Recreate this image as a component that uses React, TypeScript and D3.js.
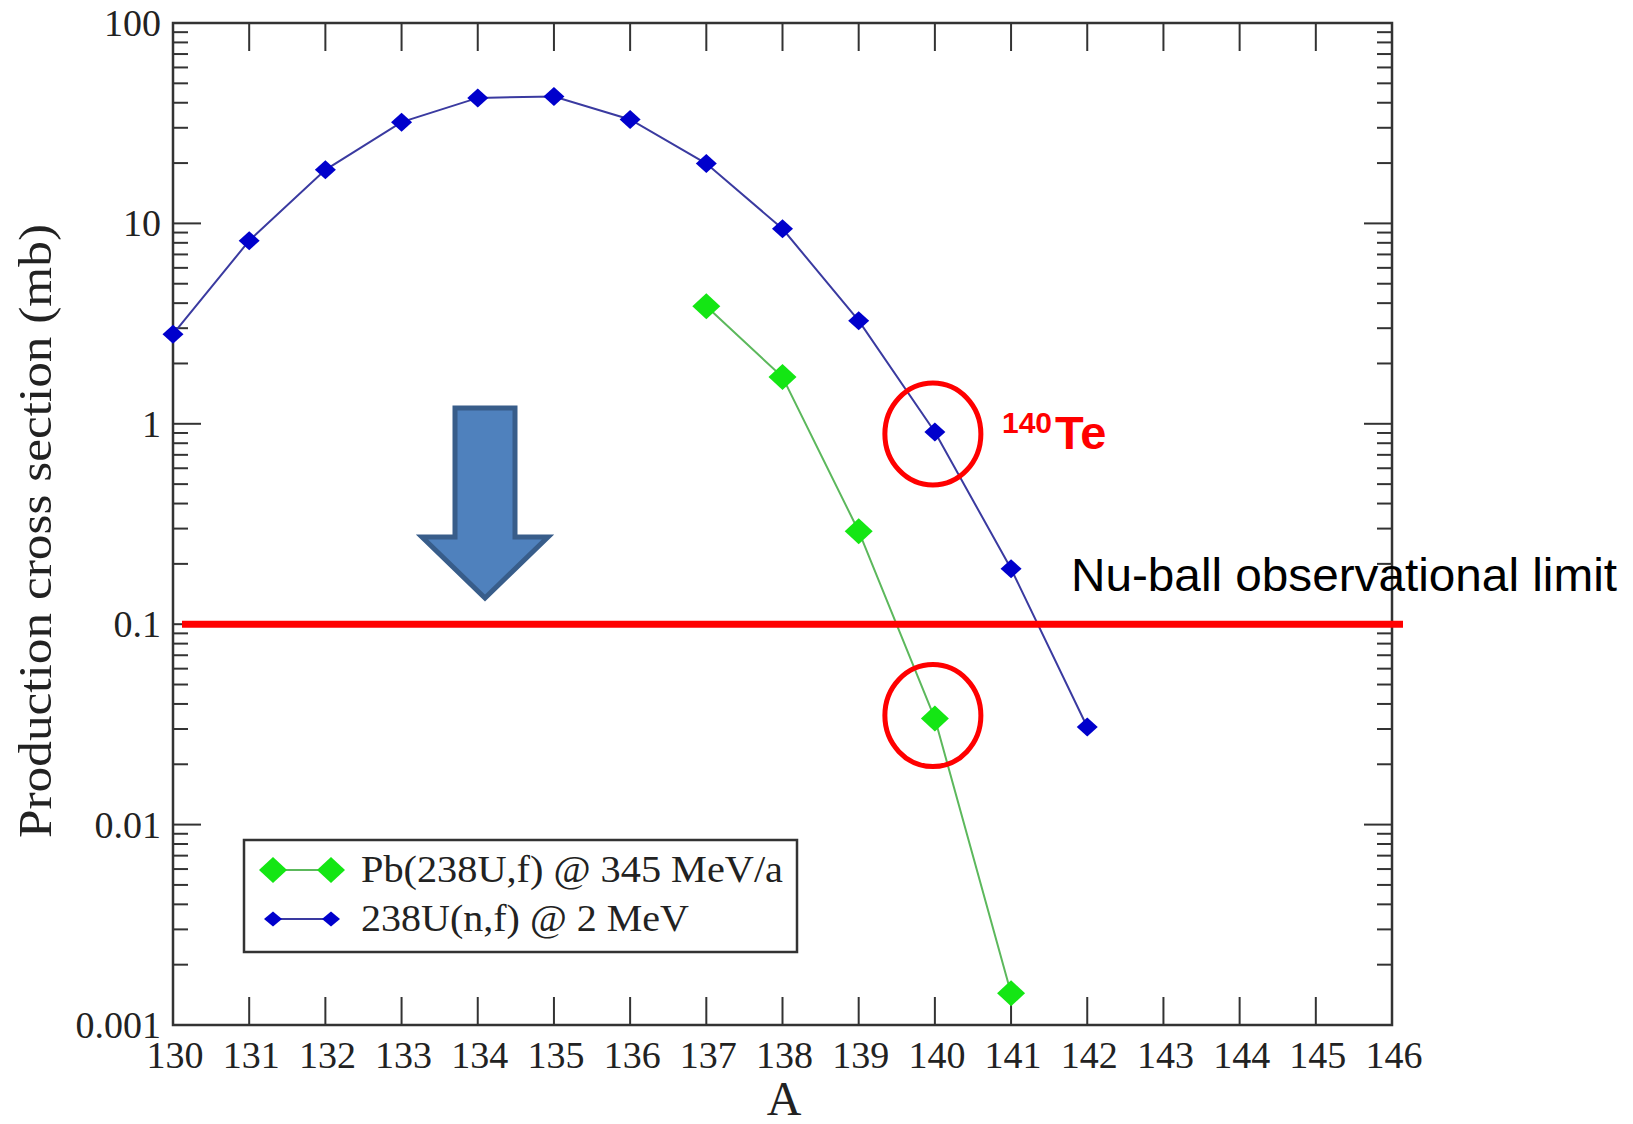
import React from "react";
import * as d3 from "d3";

// Mass number A of each point
const massU238nf = [130, 131, 132, 133, 134, 135, 136, 137, 138, 139, 140, 141, 142];
// 238U(n,f) @ 2 MeV production cross section (mb)
const sigmaU238nf = [2.8, 8.2, 18.5, 32, 42.3, 43, 33, 19.9, 9.4, 3.27, 0.91, 0.189, 0.0307];

const massPbFission = [137, 138, 139, 140, 141];
// Pb(238U,f) @ 345 MeV/a production cross section (mb)
const sigmaPbFission = [3.86, 1.71, 0.291, 0.0338, 0.00144];

const xTickValues = d3.range(130, 147);
const yDecades = [0.001, 0.01, 0.1, 1, 10, 100];
const yDecadeLabels = ["0.001", "0.01", "0.1", "1", "10", "100"];

const legendLabels = ["Pb(238U,f) @ 345 MeV/a", "238U(n,f) @ 2 MeV"];
const limitValue = 0.1;
const limitLabel = "Nu-ball observational limit";
const highlightMass = 140;

const W = 1633;
const H = 1124;
const plot = { left: 173, right: 1392, top: 23, bottom: 1025 };

const x = d3.scaleLinear().domain([130, 146]).range([plot.left, plot.right]);
const y = d3.scaleLog().domain([0.001, 100]).range([plot.bottom, plot.top]);

const serif = "'Liberation Serif', 'Times New Roman', serif";
const sans = "'Liberation Sans', Arial, sans-serif";
const axisColor = "#333";

const greenFill = "#14e614";
const greenLine = "#5cb85c";
const blueFill = "#0000cc";
const blueLine = "#3a3aa0";

function diamond(cx: number, cy: number, w: number, h: number) {
  return `M${cx},${cy - h / 2}L${cx + w / 2},${cy}L${cx},${cy + h / 2}L${cx - w / 2},${cy}Z`;
}

const lineGen = d3
  .line<[number, number]>()
  .x((d) => x(d[0]))
  .y((d) => y(d[1]));

export default function App() {
  const minorTicks: number[] = [];
  for (let k = 0; k < yDecades.length - 1; k++) {
    for (let m = 2; m <= 9; m++) minorTicks.push(yDecades[k] * m);
  }

  const blueData = massU238nf.map((a, i) => [a, sigmaU238nf[i]] as [number, number]);
  const greenData = massPbFission.map((a, i) => [a, sigmaPbFission[i]] as [number, number]);

  const majorLen = 28;
  const minorLen = 15;

  // down-pointing block arrow
  const arrow = [
    [455, 408],
    [515, 408],
    [515, 537],
    [548, 537],
    [485, 598],
    [422, 537],
    [455, 537],
  ];

  const legendRows = [
    { label: legendLabels[0], fill: greenFill, line: greenLine, w: 28, h: 26, y: 870, len: 422 },
    { label: legendLabels[1], fill: blueFill, line: blueLine, w: 18, h: 15, y: 919, len: 328 },
  ];

  const circleX = x(highlightMass);

  return (
    <svg
      width={W}
      height={H}
      style={{ position: "absolute", left: 0, top: 0, background: "#fff" }}
      xmlns="http://www.w3.org/2000/svg"
    >
      <rect width={W} height={H} fill="#fff" />

      {/* x ticks, bottom and top, inward */}
      {xTickValues.map((v) => (
        <g key={"xt" + v} stroke={axisColor} strokeWidth={2}>
          <line x1={x(v)} x2={x(v)} y1={plot.bottom} y2={plot.bottom - majorLen} />
          <line x1={x(v)} x2={x(v)} y1={plot.top} y2={plot.top + majorLen} />
        </g>
      ))}
      {/* y log ticks, left and right, inward */}
      {yDecades.map((v) => (
        <g key={"yt" + v} stroke={axisColor} strokeWidth={2}>
          <line x1={plot.left} x2={plot.left + majorLen} y1={y(v)} y2={y(v)} />
          <line x1={plot.right} x2={plot.right - majorLen} y1={y(v)} y2={y(v)} />
        </g>
      ))}
      {minorTicks.map((v) => (
        <g key={"ym" + v} stroke={axisColor} strokeWidth={2}>
          <line x1={plot.left} x2={plot.left + minorLen} y1={y(v)} y2={y(v)} />
          <line x1={plot.right} x2={plot.right - minorLen} y1={y(v)} y2={y(v)} />
        </g>
      ))}

      <rect
        x={plot.left}
        y={plot.top}
        width={plot.right - plot.left}
        height={plot.bottom - plot.top}
        fill="none"
        stroke={axisColor}
        strokeWidth={2.5}
      />

      {/* tick labels */}
      {xTickValues.map((v) => (
        <text
          key={"xl" + v}
          x={x(v) + 2}
          y={plot.bottom + 43}
          textAnchor="middle"
          fontFamily={serif}
          fontSize={38}
          fill="#222"
        >
          {v}
        </text>
      ))}
      {yDecades.map((v, i) => (
        <text
          key={"yl" + v}
          x={plot.left - 12}
          y={y(v) + 13}
          textAnchor="end"
          fontFamily={serif}
          fontSize={38}
          fill="#222"
        >
          {yDecadeLabels[i]}
        </text>
      ))}

      {/* axis titles */}
      <text x={784} y={1115} textAnchor="middle" fontFamily={serif} fontSize={48} fill="#222">
        A
      </text>
      <text
        transform={`translate(51,${(plot.top + plot.bottom) / 2 + 7}) rotate(-90)`}
        textAnchor="middle"
        fontFamily={serif}
        fontSize={46}
        textLength={614}
        lengthAdjust="spacingAndGlyphs"
        fill="#222"
      >
        Production cross section (mb)
      </text>

      {/* data series */}
      <path d={lineGen(blueData) || ""} fill="none" stroke={blueLine} strokeWidth={2} />
      <path d={lineGen(greenData) || ""} fill="none" stroke={greenLine} strokeWidth={2} />
      {blueData.map((d) => (
        <path key={"b" + d[0]} d={diamond(x(d[0]), y(d[1]), 21, 19)} fill={blueFill} />
      ))}
      {greenData.map((d) => (
        <path key={"g" + d[0]} d={diamond(x(d[0]), y(d[1]), 28, 26)} fill={greenFill} />
      ))}

      {/* legend */}
      <rect x={244} y={840} width={553} height={112} fill="#fff" stroke={axisColor} strokeWidth={2.5} />
      {legendRows.map((r) => (
        <g key={r.label}>
          <line x1={273} x2={331} y1={r.y} y2={r.y} stroke={r.line} strokeWidth={2} />
          <path d={diamond(273, r.y, r.w, r.h)} fill={r.fill} />
          <path d={diamond(331, r.y, r.w, r.h)} fill={r.fill} />
          <text
            x={361}
            y={r.y + 12}
            fontFamily={serif}
            fontSize={37}
            textLength={r.len}
            lengthAdjust="spacingAndGlyphs"
            fill="#222"
          >
            {r.label}
          </text>
        </g>
      ))}

      {/* annotation: observational limit */}
      <line x1={182} x2={1403} y1={y(limitValue)} y2={y(limitValue)} stroke="#ff0000" strokeWidth={7} />
      <text
        x={1071}
        y={y(limitValue) - 33}
        fontFamily={sans}
        fontSize={46}
        textLength={546}
        lengthAdjust="spacingAndGlyphs"
        fill="#000"
      >
        {limitLabel}
      </text>

      {/* highlighted A = 140 points */}
      <ellipse cx={circleX - 2} cy={y(sigmaU238nf[10]) + 2} rx={48} ry={51} fill="none" stroke="#ff0000" strokeWidth={5} />
      <ellipse cx={circleX - 2} cy={y(sigmaPbFission[3]) - 3} rx={48} ry={51} fill="none" stroke="#ff0000" strokeWidth={5} />
      <text fontFamily={sans} fontWeight="bold" fill="#ff0000">
        <tspan x={1002} y={433} fontSize={30}>
          140
        </tspan>
        <tspan x={1055} y={449} fontSize={47}>
          Te
        </tspan>
      </text>

      {/* arrow */}
      <polygon
        points={arrow.map((p) => p.join(",")).join(" ")}
        fill="#4f81bd"
        stroke="#385d8a"
        strokeWidth={5}
        strokeLinejoin="miter"
      />
    </svg>
  );
}
